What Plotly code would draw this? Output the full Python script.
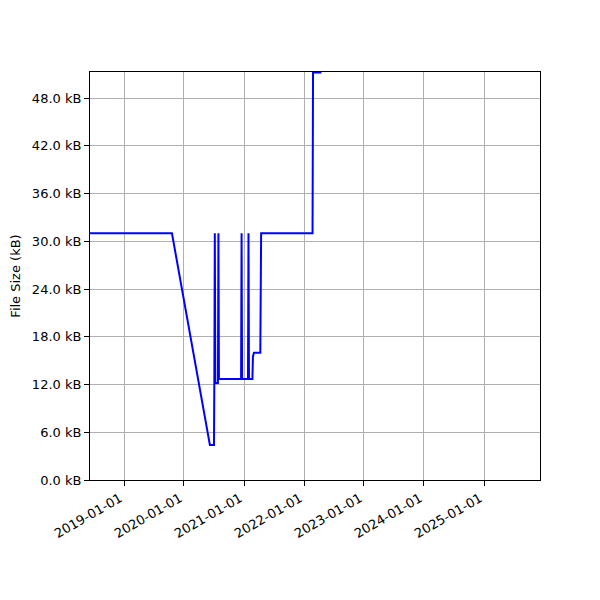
import plotly.graph_objects as go

dates = [
    "2018-06-08", "2019-10-20", "2020-06-07", "2020-07-02", "2020-07-04",
    "2020-07-07", "2020-07-10", "2020-07-26", "2020-07-29", "2020-08-01",
    "2020-12-14", "2020-12-17", "2020-12-20", "2021-01-25", "2021-01-28",
    "2021-01-31", "2021-02-21", "2021-02-24", "2021-03-02", "2021-04-10",
    "2021-04-15", "2022-02-22", "2022-02-25", "2022-04-17",
]
sizes_kb = [
    31.0, 31.0, 4.4, 4.4, 12.2,
    31.0, 12.2, 12.2, 31.0, 12.7,
    12.7, 31.0, 12.7, 12.7, 31.0,
    12.7, 12.7, 15.5, 16.0, 16.0,
    31.0, 31.0, 51.2, 51.2,
]

x_range = ["2018-06-08", "2025-12-08"]
x_tick_vals = ["2019-01-01", "2020-01-01", "2021-01-01", "2022-01-01",
               "2023-01-01", "2024-01-01", "2025-01-01"]
y_tick_vals = [0, 6, 12, 18, 24, 30, 36, 42, 48]
y_tick_text = [f"{v:.1f} kB" for v in y_tick_vals]
y_max = 51.27

fig = go.Figure()
fig.add_trace(go.Scatter(
    x=dates, y=sizes_kb, mode="lines",
    line=dict(color="#0000ff", width=2),
    showlegend=False,
))

font = dict(family="DejaVu Sans", size=13, color="black")

fig.update_layout(
    width=600, height=600,
    margin=dict(l=90, r=60, t=72, b=120),
    plot_bgcolor="white", paper_bgcolor="white",
    font=font,
    xaxis=dict(
        range=x_range, type="date",
        tickvals=x_tick_vals, ticktext=x_tick_vals,
        tickangle=-30, ticklabelshift=-4,
        showgrid=True, gridcolor="#b0b0b0", gridwidth=1,
        showline=True, linecolor="black", linewidth=1, mirror=True,
        ticks="outside", ticklen=5, tickcolor="black",
        zeroline=False, tickfont=font, automargin=False,
    ),
    yaxis=dict(
        range=[0, y_max],
        tickvals=y_tick_vals, ticktext=y_tick_text,
        showgrid=True, gridcolor="#b0b0b0", gridwidth=1,
        showline=True, linecolor="black", linewidth=1, mirror=True,
        ticks="outside", ticklen=5, tickcolor="black",
        zeroline=False, tickfont=font, automargin=False,
        title=dict(text="File Size (kB)", font=font, standoff=8),
    ),
)

fig.write_html("out.html", config={"displayModeBar": False},
               post_script="document.body.style.margin='0';")
